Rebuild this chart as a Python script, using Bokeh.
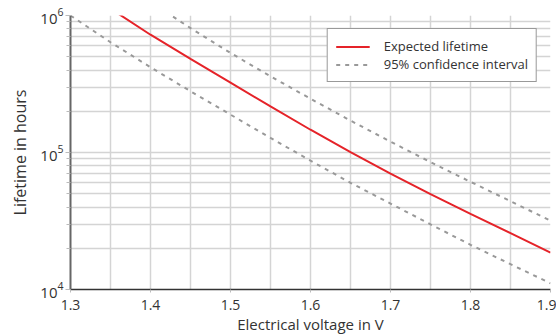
from bokeh.plotting import figure
from bokeh.models import FixedTicker, Legend, LegendItem
from bokeh.embed import file_html
from bokeh.resources import INLINE

# ---- data ----
voltage_expected = [1.35, 1.40, 1.45, 1.50, 1.55, 1.60, 1.65, 1.70, 1.75, 1.80, 1.85, 1.90]
lifetime_expected = [1122000, 724000, 482000, 323600, 216800, 146600, 100500, 70100, 49700, 35600, 25800, 18600]

voltage_lower = [1.30, 1.35, 1.40, 1.45, 1.50, 1.55, 1.60, 1.65, 1.70, 1.75, 1.80, 1.85, 1.90]
lifetime_lower = [1000000, 638000, 419000, 280000, 189000, 128000, 87100, 60100, 42400, 29900, 21200, 15300, 11100]

voltage_upper = [1.40, 1.45, 1.50, 1.55, 1.60, 1.65, 1.70, 1.75, 1.80, 1.85, 1.90]
lifetime_upper = [1260000, 809000, 533000, 360000, 247000, 171000, 120000, 85100, 61100, 44100, 31800]

x_ticks = [1.3, 1.4, 1.5, 1.6, 1.7, 1.8, 1.9]
x_tick_labels = ["1.3", "1.4", "1.5", "1.6", "1.7", "1.8", "1.9"]
x_minor_ticks = [1.35, 1.45, 1.55, 1.65, 1.75, 1.85]
y_ticks = [1e4, 1e5, 1e6]

series_labels = ["Expected lifetime", "95% confidence interval"]
x_title = "Electrical voltage in V"
y_title = "Lifetime in hours"

FONT = "Open Sans"
RED = "#e52329"
GRAY = "#999999"
GRID = "#d4d4d4"

p = figure(
    width=556, height=336,
    frame_width=480, frame_height=274,
    x_range=(1.3, 1.9), y_range=(1e4, 1e6),
    y_axis_type="log",
    output_backend="svg", toolbar_location=None,
    min_border_left=70, min_border_right=6, min_border_top=15, min_border_bottom=47,
)
p.outline_line_color = None
p.background_fill_color = "white"

r_exp = p.line(voltage_expected, lifetime_expected, line_color=RED, line_width=2)
r_low = p.line(voltage_lower, lifetime_lower, line_color=GRAY, line_width=2, line_dash="4 5")
r_up = p.line(voltage_upper, lifetime_upper, line_color=GRAY, line_width=2, line_dash="4 5")

# x axis
xa = p.xaxis[0]
xa.ticker = FixedTicker(ticks=x_ticks, minor_ticks=x_minor_ticks)
xa.major_label_overrides = {t: l for t, l in zip(x_ticks, x_tick_labels)}
xa.axis_label = x_title
xa.axis_line_color = "#333333"
xa.axis_line_width = 1.5
xa.major_tick_in = 0
xa.major_tick_out = 3
xa.major_tick_line_color = "#bbbbbb"
xa.minor_tick_in = 0
xa.minor_tick_out = 0
xa.major_label_standoff = 7
xa.axis_label_standoff = 1
xa.major_label_text_font = FONT
xa.major_label_text_font_size = "14px"
xa.major_label_text_color = "#333333"
xa.axis_label_text_font = FONT
xa.axis_label_text_font_size = "15px"
xa.axis_label_text_font_style = "normal"
xa.axis_label_text_color = "#333333"

# y axis
minor_y = [m * d for d in (1e4, 1e5) for m in range(2, 10)]
ya = p.yaxis[0]
ya.ticker = FixedTicker(ticks=y_ticks, minor_ticks=minor_y)
ya.axis_label = y_title
ya.axis_line_color = "#666666"
ya.axis_line_width = 2
ya.major_tick_in = 0
ya.major_tick_out = 5
ya.minor_tick_in = 0
ya.minor_tick_out = 4
ya.major_tick_line_color = "#bbbbbb"
ya.minor_tick_line_color = "#bbbbbb"
ya.major_label_standoff = 2
ya.axis_label_standoff = 6
ya.major_label_text_font = FONT
ya.major_label_text_font_size = "15px"
ya.major_label_text_color = "#333333"
ya.axis_label_text_font = FONT
ya.axis_label_text_font_size = "16px"
ya.axis_label_text_font_style = "normal"
ya.axis_label_text_color = "#333333"

# grids
p.xgrid.grid_line_color = GRID
p.xgrid.grid_line_width = 1.5
p.xgrid.minor_grid_line_color = GRID
p.xgrid.minor_grid_line_width = 1.5
p.ygrid.grid_line_color = GRID
p.ygrid.grid_line_width = 1.5
p.ygrid.minor_grid_line_color = GRID
p.ygrid.minor_grid_line_width = 1.5

legend = Legend(
    items=[LegendItem(label=series_labels[0], renderers=[r_exp]),
           LegendItem(label=series_labels[1], renderers=[r_low])],
    location="top_right",
    margin=13,
    padding=8,
    spacing=0,
    label_height=11,
    glyph_height=11,
    glyph_width=34,
    label_standoff=14,
    label_text_font=FONT,
    label_text_font_size="13px",
    label_text_color="#333333",
    border_line_color="#333333",
    border_line_width=1,
    background_fill_color="white",
    background_fill_alpha=1,
)
p.add_layout(legend, "center")

open("out.html", "w").write(file_html(p, INLINE))
